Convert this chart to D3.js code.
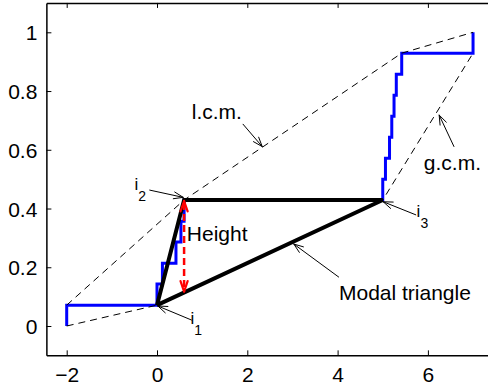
<!DOCTYPE html>
<html>
<head>
<meta charset="utf-8">
<script src="https://cdn.jsdelivr.net/npm/d3@7"></script>
<style>
  html, body { margin: 0; padding: 0; background: #fff; }
  svg { display: block; }
  text { font-family: "Liberation Sans", Arial, Helvetica, sans-serif; fill: #000; }
</style>
</head>
<body>
<svg id="chart" width="488" height="388"></svg>
<script>
// Empirical CDF of the sample (jump locations and levels)
const ecdfX = [-2, 0, 0.12, 0.42, 0.53, 0.6, 5.0, 5.06, 5.15, 5.2, 5.25, 5.3, 5.42, 7];
const ecdfY = [0.071, 0.143, 0.214, 0.286, 0.357, 0.429, 0.5, 0.571, 0.643, 0.714, 0.786, 0.857, 0.929, 1.0];

// Greatest convex minorant and least concave majorant knots
const gcmX = [-2, 0, 5, 7];
const gcmY = [0, 0.071, 0.429, 0.929];
const lcmX = [-2, 0.6, 5.42, 7];
const lcmY = [0.071, 0.429, 0.929, 1.0];

// Modal triangle vertices i1, i2, i3
const triX = [0, 0.6, 5];
const triY = [0.071, 0.429, 0.429];

// Axis ticks
const xTicks = [-2, 0, 2, 4, 6];
const yTicks = [0, 0.2, 0.4, 0.6, 0.8, 1];

const svg = d3.select("#chart");
const x = d3.scaleLinear().domain([-2.45, 7.5]).range([157 - 2.45 * 45.15, 157 + 7.5 * 45.15]);
const y = d3.scaleLinear().domain([-0.1, 1.1]).range([326 + 0.1 * 293.7, 326 - 1.1 * 293.7]);

const [x0, x1] = x.range();
const [y0, y1] = y.range();

// Axes (box with inward ticks)
const tickLen = 5;
const gx = svg.append("g").attr("transform", `translate(0,${y0})`)
  .call(d3.axisBottom(x).tickValues(xTicks).tickSizeInner(-tickLen).tickSizeOuter(0)
    .tickPadding(12).tickFormat(d => d < 0 ? "\u2212" + Math.abs(d) : d));
const gxTop = svg.append("g").attr("transform", `translate(0,${y1})`)
  .call(d3.axisTop(x).tickValues(xTicks).tickSizeInner(-tickLen).tickSizeOuter(0).tickFormat(""));
const gy = svg.append("g").attr("transform", `translate(${x0},0)`)
  .call(d3.axisLeft(y).tickValues(yTicks).tickSizeInner(-tickLen).tickSizeOuter(0)
    .tickPadding(9).tickFormat(d => d));
const gyRight = svg.append("g").attr("transform", `translate(${x1},0)`)
  .call(d3.axisRight(y).tickValues(yTicks).tickSizeInner(-tickLen).tickSizeOuter(0).tickFormat(""));

[gx, gxTop, gy, gyRight].forEach(g => {
  g.select(".domain").attr("stroke", "#000").attr("stroke-width", 1.5);
  g.selectAll(".tick line").attr("stroke", "#000").attr("stroke-width", 1);
  g.selectAll("text").style("font-size", "21px").attr("fill", "#000")
    .style("font-family", "'Liberation Sans', Arial, sans-serif");
});
gx.selectAll("text").attr("dy", "0.71em");
gy.selectAll("text").attr("dy", "0.36em");

const plot = svg.append("g");

// ECDF step curve
const ecdfPts = [[ecdfX[0], 0]].concat(ecdfX.map((v, i) => [v, ecdfY[i]]));
const stepLine = d3.line().x(d => x(d[0])).y(d => y(d[1])).curve(d3.curveStepAfter);
plot.append("path").attr("d", stepLine(ecdfPts))
  .attr("fill", "none").attr("stroke", "#0000ff").attr("stroke-width", 3);

// gcm / lcm dashed lines
const line = d3.line().x(d => x(d[0])).y(d => y(d[1]));
[[gcmX, gcmY], [lcmX, lcmY]].forEach(([xs, ys]) => {
  plot.append("path").attr("d", line(xs.map((v, i) => [v, ys[i]])))
    .attr("fill", "none").attr("stroke", "#000").attr("stroke-width", 1)
    .attr("stroke-dasharray", "7,5");
});

// Modal triangle
const triPts = triX.map((v, i) => [v, triY[i]]);
plot.append("path").attr("d", line(triPts.concat([triPts[0]])))
  .attr("fill", "none").attr("stroke", "#000").attr("stroke-width", 4)
  .attr("stroke-linejoin", "miter");

// Open arrowhead helper
function arrowHead(g, xa, ya, xb, yb, len, spread, color, width) {
  const ang = Math.atan2(yb - ya, xb - xa);
  [-spread, spread].forEach(s => {
    g.append("line")
      .attr("x1", xb).attr("y1", yb)
      .attr("x2", xb - len * Math.cos(ang + s)).attr("y2", yb - len * Math.sin(ang + s))
      .attr("stroke", color).attr("stroke-width", width).attr("stroke-linecap", "round");
  });
}

// Height: vertical double arrow from i2 down to the i1–i3 side
const hX = triX[1];
const hTop = triY[1];
const hBot = triY[0] + (triY[2] - triY[0]) * (hX - triX[0]) / (triX[2] - triX[0]);
const red = plot.append("g");
red.append("line")
  .attr("x1", x(hX)).attr("x2", x(hX))
  .attr("y1", y(hTop) + 3).attr("y2", y(hBot) - 3)
  .attr("stroke", "#ff0000").attr("stroke-width", 2.5).attr("stroke-dasharray", "7,4");
arrowHead(red, x(hX), y(hBot), x(hX), y(hTop) + 1, 11, 0.33, "#ff0000", 2.2);
arrowHead(red, x(hX), y(hTop), x(hX), y(hBot) - 1, 11, 0.33, "#ff0000", 2.2);

// Annotations: label, optional subscript, text anchor, arrow start and tip (data units)
const notes = [
  { t: "l.c.m.", sub: "", tx: 0.77, ty: 0.705, ax: 1.9, ay: 0.688, bx: 2.33, by: 0.611, fs: 21 },
  { t: "g.c.m.", sub: "", tx: 5.91, ty: 0.531, ax: 6.58, ay: 0.61, bx: 6.25, by: 0.718, fs: 21 },
  { t: "i", sub: "2", tx: -0.5, ty: 0.463, ax: -0.17, ay: 0.463, bx: 0.58, by: 0.438, fs: 17 },
  { t: "i", sub: "1", tx: 0.74, ty: 0.007, ax: 0.77, ay: 0.02, bx: 0.02, by: 0.068, fs: 17 },
  { t: "i", sub: "3", tx: 5.75, ty: 0.371, ax: 5.74, ay: 0.378, bx: 5.01, by: 0.423, fs: 17 },
  { t: "Height", sub: "", tx: 0.66, ty: 0.29, fs: 21 },
  { t: "Modal triangle", sub: "", tx: 4.03, ty: 0.089, ax: 4.03, ay: 0.166, bx: 3.03, by: 0.279, fs: 21 }
];

const ann = svg.append("g");
notes.forEach(n => {
  const txt = ann.append("text").attr("x", x(n.tx)).attr("y", y(n.ty))
    .style("font-size", n.fs + "px").text(n.t);
  if (n.sub) {
    txt.append("tspan").attr("dy", 11).style("font-size", "14px").text(n.sub);
  }
  if (n.ax !== undefined) {
    const xa = x(n.ax), ya = y(n.ay), xb = x(n.bx), yb = y(n.by);
    ann.append("line").attr("x1", xa).attr("y1", ya).attr("x2", xb).attr("y2", yb)
      .attr("stroke", "#000").attr("stroke-width", 1);
    arrowHead(ann, xa, ya, xb, yb, 10, 0.35, "#000", 1);
  }
});
</script>
</body>
</html>
